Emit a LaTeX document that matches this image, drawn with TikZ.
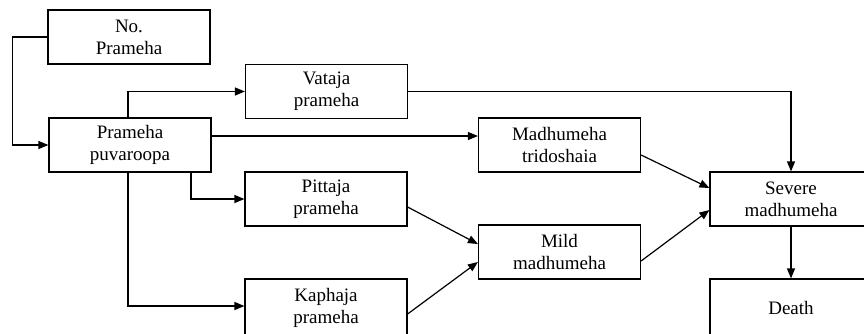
\documentclass[tikz,border=0pt]{standalone}
\usepackage{fontspec}
\setmainfont{Liberation Serif}
\usetikzlibrary{arrows.meta}
\begin{document}
\begin{tikzpicture}[x=1pt,y=-1pt,
  box/.style={draw,line width=1.2pt,minimum width=162pt,minimum height=54pt,inner sep=0pt,align=center,font=\fontsize{19}{22}\selectfont},
  arr/.style={line width=1.2pt,-{Triangle[length=10pt,width=8pt]}}]
\useasboundingbox (0,0) rectangle (864,333);
\clip (0,0) rectangle (864,333);
\node[box] (np) at (129,37) {No.\\Prameha};
\node[box] (pp) at (130,145) {Prameha\\puvaroopa};
\node[box] (vp) at (326.5,91.5) {Vataja\\prameha};
\node[box] (mt) at (559.5,145) {Madhumeha\\tridoshaia};
\node[box] (pit) at (326,199) {Pittaja\\prameha};
\node[box] (mild) at (559.5,252) {Mild\\madhumeha};
\node[box,minimum height=58pt] (kap) at (326,308) {Kaphaja\\prameha};
\node[box] (sev) at (791,199) {Severe\\madhumeha};
\node[box,minimum height=58pt] (death) at (791,308) {Death};
\draw[arr] (np.west) -- ++(-35,0) |- (pp.west);
\draw[arr] ([xshift=-2pt]pp.north) |- (vp.west);
\draw[arr] ([yshift=9pt]pp.east) -- ([yshift=9pt]mt.west);
\draw[arr] ([xshift=61pt]pp.south) |- (pit.west);
\draw[arr] ([xshift=-2pt]pp.south) |- ([yshift=2pt]kap.west);
\draw[arr] (vp.east) -| (sev.north);
\draw[arr] ([yshift=-10pt]mt.east) -- ([yshift=11pt]sev.west);
\draw[arr] ([yshift=-8pt]pit.east) -- ([yshift=8pt]mild.west);
\draw[arr] ([yshift=-6pt]kap.east) -- ([yshift=-10pt]mild.west);
\draw[arr] ([yshift=-9pt]mild.east) -- ([yshift=-11pt]sev.west);
\draw[arr] (sev.south) -- (death.north);
\end{tikzpicture}
\end{document}
